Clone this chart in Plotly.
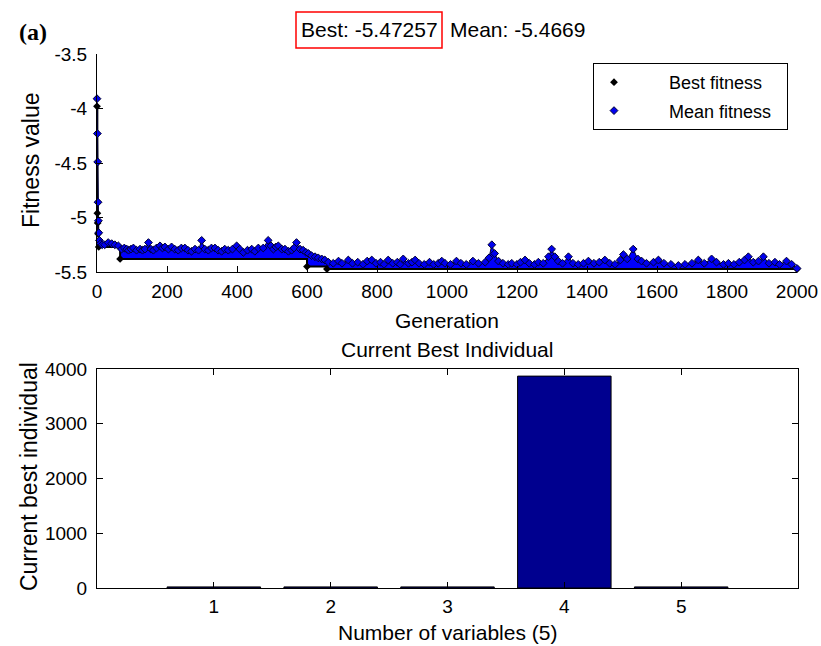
import plotly.graph_objects as go

# ---- GA run summary -------------------------------------------------------
best_final = -5.47257
mean_final = -5.4669

# Best fitness per generation (value changes only; held constant in between)
best_gen = [0, 1, 2, 3, 5, 66, 600, 657, 2000]
best_val = [-3.98, -4.96, -5.05, -5.15, -5.27, -5.38, -5.45, best_final, best_final]

# Mean fitness of the population, sampled along the run
mean_gen = [0, 1, 2, 3, 4, 5, 7, 10, 15, 22, 32, 42, 51, 61, 70, 78, 85, 90, 97,
            104, 113, 123, 130, 137, 147, 154, 161, 170, 180, 187, 194, 204, 213,
            222, 232, 241, 251, 260, 270, 280, 290, 299, 308, 318, 327, 337, 346,
            356, 365, 375, 387, 399, 408, 418, 430, 442, 451, 461, 475, 489, 497,
            504, 511, 518, 528, 537, 547, 556, 563, 570, 580, 589, 597, 604, 613,
            623, 632, 642, 651, 661, 675, 690, 700, 718, 730, 745, 760, 772, 785,
            797, 810, 820, 832, 845, 858, 866, 875, 890, 900, 909, 920, 935, 950,
            962, 975, 985, 994, 1010, 1027, 1040, 1055, 1074, 1090, 1109, 1120,
            1128, 1136, 1147, 1160, 1175, 1185, 1200, 1210, 1223, 1235, 1250,
            1261, 1275, 1290, 1299, 1308, 1318, 1330, 1347, 1360, 1375, 1390,
            1404, 1420, 1435, 1451, 1465, 1480, 1495, 1504, 1515, 1532, 1545,
            1556, 1570, 1590, 1604, 1620, 1640, 1661, 1680, 1700, 1718, 1735,
            1756, 1770, 1790, 1804, 1820, 1835, 1850, 1861, 1875, 1890, 1904,
            1920, 1937, 1950, 1970, 1985, 2000]
mean_val = [-3.91, -4.23, -4.49, -4.86, -5.03, -5.14, -5.21, -5.24, -5.25, -5.25,
            -5.23, -5.24, -5.25, -5.26, -5.29, -5.28, -5.29, -5.30, -5.29, -5.28,
            -5.30, -5.29, -5.30, -5.29, -5.23, -5.29, -5.30, -5.28, -5.26, -5.28,
            -5.27, -5.29, -5.27, -5.29, -5.30, -5.28, -5.28, -5.30, -5.31, -5.29,
            -5.30, -5.21, -5.29, -5.30, -5.28, -5.28, -5.30, -5.31, -5.29, -5.30,
            -5.29, -5.26, -5.29, -5.32, -5.30, -5.29, -5.31, -5.28, -5.28, -5.21,
            -5.26, -5.29, -5.27, -5.26, -5.29, -5.29, -5.31, -5.30, -5.28, -5.23,
            -5.29, -5.30, -5.32, -5.33, -5.35, -5.36, -5.37, -5.38, -5.39, -5.41,
            -5.42, -5.40, -5.42, -5.39, -5.42, -5.41, -5.43, -5.40, -5.39, -5.42,
            -5.41, -5.43, -5.39, -5.42, -5.41, -5.43, -5.38, -5.42, -5.41, -5.39,
            -5.42, -5.43, -5.41, -5.43, -5.42, -5.40, -5.42, -5.43, -5.40, -5.42,
            -5.43, -5.40, -5.42, -5.41, -5.37, -5.25, -5.33, -5.40, -5.42, -5.43,
            -5.42, -5.43, -5.41, -5.39, -5.42, -5.43, -5.41, -5.42, -5.36, -5.29,
            -5.36, -5.40, -5.42, -5.36, -5.42, -5.43, -5.42, -5.40, -5.42, -5.41,
            -5.39, -5.42, -5.43, -5.39, -5.34, -5.38, -5.29, -5.38, -5.40, -5.42,
            -5.41, -5.39, -5.42, -5.43, -5.44, -5.43, -5.42, -5.39, -5.42, -5.38,
            -5.41, -5.43, -5.42, -5.43, -5.41, -5.39, -5.36, -5.41, -5.40, -5.36,
            -5.42, -5.41, -5.43, -5.40, -5.43, mean_final]

gen_ticks = [0, 200, 400, 600, 800, 1000, 1200, 1400, 1600, 1800, 2000]
fit_ticks = [-5.5, -5, -4.5, -4, -3.5]
fit_tick_text = ["-5.5", "-5", "-4.5", "-4", "-3.5"]

# Current best individual (5 decision variables)
var_index = [1, 2, 3, 4, 5]
var_value = [20, 20, 20, 3870, 20]
var_ticks = [0, 1000, 2000, 3000, 4000]

# ---- layout helpers (pixel -> paper fractions) ----------------------------
W, H = 821, 646
ML, MR, MT, MB = 97, 23, 54, 58
PW, PH = W - ML - MR, H - MT - MB


def fx(px):
    return (px - ML) / PW


def fy(py):
    return (H - MB - py) / PH


FONT = "Liberation Sans, Arial, Helvetica, sans-serif"
TICK = dict(family=FONT, size=19, color="black")
LAB = dict(family=FONT, size=21, color="black")
VLAB = dict(family=FONT, size=23, color="black")
PAD = "\u00a0" * 7

fig = go.Figure()

# best-fitness step line (lower edge of the band)
fig.add_trace(go.Scatter(x=best_gen, y=best_val, mode="lines", line_shape="hv",
                         line=dict(color="black", width=2), showlegend=False,
                         hoverinfo="skip", xaxis="x", yaxis="y"))
# mean fitness, filled down to the best-fitness line
fig.add_trace(go.Scatter(x=mean_gen, y=mean_val, mode="lines", fill="tonexty",
                         fillcolor="#0000FF", line=dict(color="#000033", width=1),
                         showlegend=False, hoverinfo="skip", xaxis="x", yaxis="y"))
# point markers
fig.add_trace(go.Scatter(x=best_gen, y=best_val, mode="markers",
                         name=PAD + "Best fitness\u00a0\u00a0",
                         marker=dict(symbol="diamond", size=6, color="black"),
                         cliponaxis=False, legendgroup="b", xaxis="x", yaxis="y"))
fig.add_trace(go.Scatter(x=mean_gen, y=mean_val, mode="markers",
                         name=PAD + "Mean fitness\u00a0\u00a0",
                         marker=dict(symbol="diamond", size=6, color="#0000EE",
                                     line=dict(color="#000033", width=1)),
                         cliponaxis=False, legendgroup="m", xaxis="x", yaxis="y"))

# current best individual
fig.add_trace(go.Bar(x=var_index, y=var_value, width=0.8,
                     marker=dict(color="#00008F", line=dict(color="black", width=1)),
                     showlegend=False, xaxis="x2", yaxis="y2"))

axis_common = dict(showline=True, linecolor="black", linewidth=1, ticks="inside",
                   ticklen=6, tickcolor="black", tickwidth=1, showgrid=False,
                   zeroline=False, tickfont=TICK, automargin=False)

fig.update_layout(
    width=W, height=H, autosize=False,
    margin=dict(l=ML, r=MR, t=MT, b=MB, autoexpand=False),
    paper_bgcolor="white", plot_bgcolor="white",
    font=dict(family=FONT, color="black"),
    xaxis=dict(domain=[0, fx(797)], anchor="y", range=[0, 2000], tickvals=gen_ticks,
               ticklabelstandoff=2, **axis_common),
    yaxis=dict(domain=[fy(272), 1], anchor="x", range=[-5.5, -3.5], tickvals=fit_ticks,
               ticktext=fit_tick_text, ticklabelstandoff=5, **axis_common),
    xaxis2=dict(domain=[0, 1], anchor="y2", range=[0, 6], tickvals=var_index,
                mirror="ticks", ticklabelstandoff=1, **axis_common),
    yaxis2=dict(domain=[0, fy(369)], anchor="x2", range=[0, 4000], tickvals=var_ticks,
                mirror="ticks", ticklabelstandoff=5, **axis_common),
    legend=dict(x=fx(593), y=fy(63), xanchor="left", yanchor="top",
                bordercolor="black", borderwidth=1, bgcolor="white",
                font=dict(family=FONT, size=18, color="black"),
                tracegroupgap=2),
    showlegend=True,
    bargap=0.2,
)

ann = [
    dict(text="<b>(a)</b>", x=fx(33), y=fy(32), font=dict(family="Liberation Serif, Times New Roman, serif", size=24)),
    dict(text=f"Best: {best_final}", x=fx(369), y=fy(30), font=LAB),
    dict(text=f"Mean: {mean_final}", x=fx(448), y=fy(30), xanchor="left", font=LAB),
    dict(text="Fitness value", x=fx(31), y=fy(160), textangle=-90, font=VLAB),
    dict(text="Generation", x=fx(447), y=fy(320), font=LAB),
    dict(text="Current Best Individual", x=fx(447), y=fy(349), font=LAB),
    dict(text="Current best individual", x=fx(29), y=fy(477), textangle=-90, font=VLAB),
    dict(text="Number of variables (5)", x=fx(447), y=fy(632), font=LAB),
]
for a in ann:
    a.setdefault("xanchor", "center")
    fig.add_annotation(xref="paper", yref="paper", showarrow=False, yanchor="middle", **a)

# red frame around the best value
fig.add_shape(type="rect", xref="paper", yref="paper", x0=fx(296), x1=fx(442),
              y0=fy(48), y1=fy(12), line=dict(color="red", width=1.5))

fig.write_html("out.html")
